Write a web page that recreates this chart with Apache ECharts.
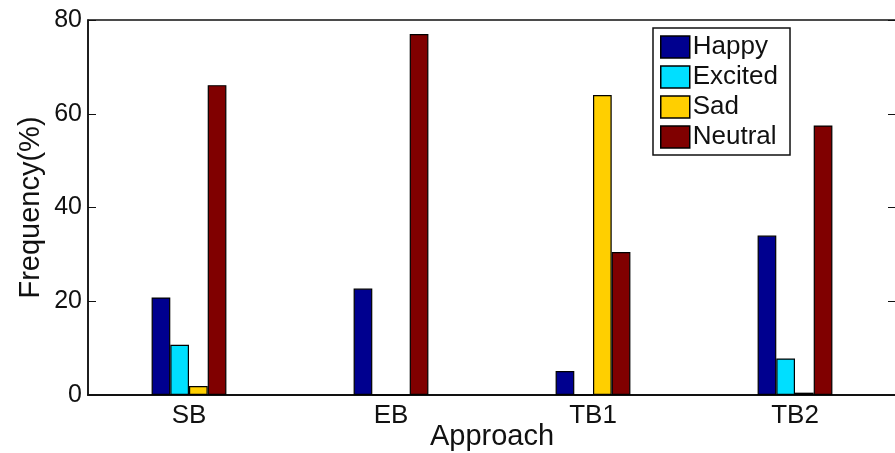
<!DOCTYPE html>
<html>
<head>
<meta charset="utf-8">
<script src="https://cdn.jsdelivr.net/npm/echarts@6/dist/echarts.min.js"></script>
<style>
  html, body { margin: 0; padding: 0; background: #fff; }
  #chart { width: 895px; height: 453px; }
</style>
</head>
<body>
<div id="chart"></div>
<script>
var categories = ['SB', 'EB', 'TB1', 'TB2'];
var happy = [20.8, 22.7, 5.1, 34.0];
var excited = [10.7, 0, 0, 7.8];
var sad = [1.9, 0, 64.0, 0.5];
var neutral = [66.1, 77.0, 30.5, 57.5];
var yTicks = [0, 20, 40, 60, 80];

var colors = ['#00008f', '#00dfff', '#ffcf00', '#800000'];
var font = 'Liberation Sans, Arial, sans-serif';

function makeSeries(name, data) {
    return {
        name: name,
        type: 'bar',
        data: data,
        barWidth: 18.7,
        barGap: '0%',
        itemStyle: { borderColor: '#000', borderWidth: 1.2 }
    };
}

var chart = echarts.init(document.getElementById('chart'));

var option = {
    animation: false,
    color: colors,
    textStyle: { fontFamily: font, color: '#111' },
    grid: {
        left: 88, top: 20, right: -1, bottom: 58,
        outerBoundsMode: 'none',
        containLabel: false,
        show: true, borderColor: '#111', borderWidth: 1.5
    },
    legend: {
        orient: 'vertical',
        left: 653,
        top: 28,
        icon: 'rect',
        itemWidth: 29,
        itemHeight: 22,
        itemGap: 4,
        padding: [6, 12, 5, 7],
        borderColor: '#111',
        borderWidth: 1.5,
        backgroundColor: '#fff',
        itemStyle: { borderColor: '#000', borderWidth: 1.5 },
        textStyle: { fontFamily: font, fontSize: 26, color: '#111', lineHeight: 22, padding: [0, 0, 0, -2] },
        data: ['Happy', 'Excited', 'Sad', 'Neutral']
    },
    xAxis: [
        {
            type: 'category',
            data: categories,
            name: 'Approach',
            nameLocation: 'middle',
            nameGap: 27,
            nameMoveOverlap: false,
            nameTextStyle: { fontFamily: font, fontSize: 29, color: '#111', verticalAlign: 'top' },
            axisLine: { lineStyle: { color: '#111', width: 1.5 } },
            axisTick: { inside: true, alignWithLabel: true, length: 8, lineStyle: { color: '#111' } },
            axisLabel: { fontFamily: font, fontSize: 26, color: '#111', margin: 8 }
        },
        {
            type: 'category',
            data: categories,
            position: 'top',
            axisLine: { lineStyle: { color: '#111', width: 1.5 } },
            axisTick: { inside: true, alignWithLabel: true, length: 8, lineStyle: { color: '#111' } },
            axisLabel: { show: false }
        }
    ],
    yAxis: [
        {
            type: 'value',
            min: yTicks[0],
            max: yTicks[yTicks.length - 1],
            interval: 20,
            name: 'Frequency(%)',
            nameLocation: 'middle',
            nameGap: 43,
            nameMoveOverlap: false,
            nameTextStyle: { fontFamily: font, fontSize: 29, color: '#111' },
            splitLine: { show: false },
            axisLine: { show: true, lineStyle: { color: '#111', width: 1.5 } },
            axisTick: { show: true, inside: true, length: 8, lineStyle: { color: '#111' } },
            axisLabel: { fontFamily: font, fontSize: 25, color: '#111', margin: 6 }
        },
        {
            type: 'value',
            min: yTicks[0],
            max: yTicks[yTicks.length - 1],
            interval: 20,
            position: 'right',
            splitLine: { show: false },
            axisLine: { show: true, lineStyle: { color: '#111', width: 1.5 } },
            axisTick: { show: true, inside: true, length: 8, lineStyle: { color: '#111' } },
            axisLabel: { show: false }
        }
    ],
    series: [
        makeSeries('Happy', happy),
        makeSeries('Excited', excited),
        makeSeries('Sad', sad),
        makeSeries('Neutral', neutral)
    ]
};

chart.setOption(option);
</script>
</body>
</html>
